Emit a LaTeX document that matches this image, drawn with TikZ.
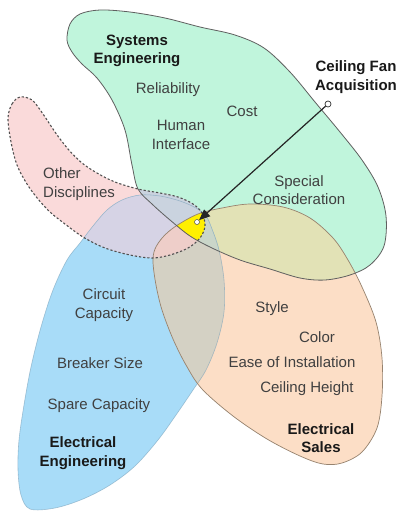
\documentclass[tikz,border=0pt]{standalone}
\usepackage{fontspec}
\setmainfont{Liberation Sans}
\usetikzlibrary{arrows.meta}
\definecolor{cG}{RGB}{192,245,220}
\definecolor{cP}{RGB}{250,218,218}
\definecolor{cB}{RGB}{168,220,248}
\definecolor{cO}{RGB}{252,222,198}
\definecolor{cGO}{RGB}{226,226,182}
\definecolor{cBO}{RGB}{212,209,196}
\definecolor{cPB}{RGB}{214,211,229}
\definecolor{cPBG}{RGB}{202,211,223}
\definecolor{cGB}{RGB}{186,228,232}
\definecolor{cPBO}{RGB}{238,206,201}
\definecolor{cBGO}{RGB}{202,214,201}
\definecolor{cY}{RGB}{255,240,0}
\definecolor{lineG}{RGB}{95,95,95}
\definecolor{lineO}{RGB}{150,130,110}
\definecolor{lineB}{RGB}{120,160,185}
\definecolor{lineP}{RGB}{80,80,80}
\def\pG{plot[smooth cycle, tension=0.55] coordinates {(67,40) (70,24) (80,14) (100,10) (130,12) (165,18) (200,27) (235,35) (264,48) (290,72) (315,102) (340,132) (362,160) (378,187) (386,216) (384,246) (370,265) (350,275) (325,280) (300,278) (270,269) (240,260) (212,248) (190,236) (170,220) (152,204) (138,189) (132,165) (125,130) (112,100) (97,78) (82,64) (72,52)}}
\def\pP{plot[smooth cycle, tension=0.55] coordinates {(8,118) (12,104) (20,97) (32,100) (43,114) (55,132) (68,149) (82,163) (97,173) (115,182) (138,189) (160,193) (178,197) (193,204) (202,213) (205,226) (200,238) (188,248) (170,255) (152,258) (130,255) (105,248) (83,237) (65,224) (50,212) (38,199) (27,184) (17,165) (11,142)}}
\def\pB{plot[smooth cycle, tension=0.55] coordinates {(30,509) (21,495) (18,470) (19,440) (24,405) (31,367) (41,327) (53,290) (67,260) (80,243) (93,226) (107,210) (122,200) (140,195) (160,196) (180,201) (196,208) (206,216) (212,229) (219,250) (224,280) (224,312) (217,343) (206,370) (193,390) (176,415) (158,440) (135,466) (110,485) (83,499) (55,508)}}
\def\pO{plot[smooth cycle, tension=0.55] coordinates {(153,262) (155,249) (163,237) (176,226) (198,214) (222,208) (250,204) (283,207) (310,218) (333,238) (348,260) (362,287) (376,322) (382,358) (382,396) (377,428) (362,452) (342,463) (323,464) (300,456) (267,439) (233,416) (202,389) (186,365) (173,339) (162,310) (156,285)}}
\begin{document}
\begin{tikzpicture}[x=1pt,y=-1pt,
  lab/.style={font=\fontsize{15}{18.5}\selectfont, text=black!75, align=center, inner sep=0pt},
  blab/.style={font=\fontsize{15}{18.5}\selectfont\bfseries, text=black!90, align=center, inner sep=0pt},
  gline/.style={draw=lineG, line width=0.8pt},
  oline/.style={draw=lineO, line width=0.7pt},
  bline/.style={draw=lineB, line width=0.6pt, draw opacity=0.6},
  pline/.style={draw=lineP, line width=1.1pt, dash pattern=on 2.2pt off 2pt},
  arr/.style={-{Triangle[length=11pt,width=9pt]}, line width=1.2pt, draw=black!85, fill=black!85}]
\useasboundingbox (0,0) rectangle (399,512);
\fill[white] (0,0) rectangle (399,512);
% pure fills
\fill[cG] \pG;
\fill[cP] \pP;
\fill[cB] \pB;
\fill[cO] \pO;
% pairs
\begin{scope}\clip \pG; \fill[cGO] \pO; \end{scope}
\begin{scope}\clip \pB; \fill[cBO] \pO; \end{scope}
\begin{scope}\clip \pP; \fill[cPB] \pB; \end{scope}
\begin{scope}\clip \pG; \fill[cGB] \pB; \end{scope}
\begin{scope}\clip \pP; \fill[cPBG] \pG; \end{scope}
% triples
\begin{scope}\clip \pP; \clip \pB; \fill[cPBG] \pG; \end{scope}
\begin{scope}\clip \pP; \clip \pB; \fill[cPBO] \pO; \end{scope}
\begin{scope}\clip \pB; \clip \pG; \fill[cBGO] \pO; \end{scope}
\begin{scope}\clip \pP; \clip \pG; \fill[cPBO] \pO; \end{scope}
% all four
\begin{scope}\clip \pP; \clip \pB; \clip \pG; \fill[cY] \pO; \end{scope}
% outlines
\draw[bline] \pB;
\draw[oline] \pO;
\draw[gline] \pG;
\draw[pline] \pP;
% labels
\node[blab] (se) at (137,51) {Systems\\Engineering};
\node[lab] (rel) at (168,90) {Reliability};
\node[lab] (hi) at (181,135) {Human\\Interface};
\node[lab] (cost) at (242,111) {Cost};
\node[blab] (cfa) at (356,77) {Ceiling Fan\\Acquisition};
\node[lab] (sc) at (299,190) {Special\\Consideration};
\node[lab, align=left, anchor=west] (od) at (43,184) {Other\\Disciplines};
\node[lab] (cc) at (104,305) {Circuit\\Capacity};
\node[lab] (bs) at (100,363) {Breaker Size};
\node[lab] (sp) at (99,406) {Spare Capacity};
\node[blab] (ee) at (83,453) {Electrical\\Engineering};
\node[lab] (sty) at (272,309) {Style};
\node[lab] (col) at (317,337) {Color};
\node[lab] (eoi) at (292,362) {Ease of Installation};
\node[lab] (ch) at (307,389) {Ceiling Height};
\node[blab] (es) at (321,438) {Electrical\\Sales};
% arrow
\node[circle, draw=black!80, fill=white, line width=0.7pt, inner sep=0pt, minimum size=6pt] (src) at (328,104) {};
\node[circle, draw=black!70, fill=white, line width=0.5pt, inner sep=0pt, minimum size=5pt] (tgt) at (197,222) {};
\draw[arr] (src) -- (tgt);
\end{tikzpicture}
\end{document}
